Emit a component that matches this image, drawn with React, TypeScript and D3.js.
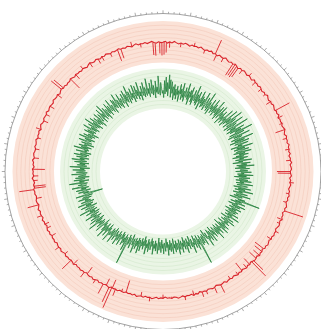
import React from "react";
import * as d3 from "d3";

// Outer track: one sample per degree (clockwise from 12 o'clock)
const redBase: number[] = [
  49, 51, 47, 50, 48, 52, 49, 47, 50, 48, 51, 49, 46, 50, 48, 49, 47, 51, 48, 46,
  49, 47, 50, 46, 48, 45, 49, 47, 46, 50, 47, 45, 48, 46, 49, 47, 44, 48, 46, 49,
  47, 45, 48, 46, 44, 49, 46, 47, 45, 48, 46, 44, 47, 45, 49, 46, 44, 47, 45, 48,
  46, 44, 47, 45, 48, 43, 46, 45, 47, 44, 46, 48, 45, 43, 47, 45, 46, 44, 48, 45,
  46, 44, 47, 43, 46, 45, 48, 44, 46, 47, 44, 45, 47, 43, 46, 44, 47, 45, 43, 46,
  45, 47, 44, 46, 43, 45, 47, 44, 46, 42, 45, 44, 47, 43, 45, 46, 44, 42, 45, 44,
  46, 43, 45, 42, 44, 46, 43, 45, 41, 44, 43, 46, 42, 44, 45, 43, 41, 44, 42, 45,
  43, 41, 44, 42, 45, 43, 41, 44, 42, 43, 45, 41, 43, 44, 42, 40, 43, 44, 42, 41,
  44, 42, 43, 40, 44, 42, 45, 41, 43, 42, 44, 41, 43, 45, 42, 41, 44, 42, 43, 40,
  43, 42, 44, 41, 43, 45, 42, 43, 41, 44, 42, 43, 45, 41, 44, 42, 43, 41, 44, 43,
  42, 45, 43, 44, 42, 46, 44, 43, 45, 44, 46, 43, 45, 47, 44, 46, 45, 43, 46, 45,
  47, 45, 46, 44, 48, 46, 45, 47, 46, 48, 45, 47, 49, 46, 48, 47, 45, 49, 47, 48,
  46, 49, 47, 50, 48, 46, 49, 48, 51, 47, 49, 50, 48, 52, 49, 47, 50, 51, 49, 48,
  51, 50, 52, 49, 51, 48, 50, 53, 49, 51, 50, 52, 48, 51, 50, 53, 49, 51, 52, 50,
  49, 52, 50, 51, 53, 49, 51, 50, 52, 48, 51, 53, 50, 49, 52, 51, 50, 53, 49, 51,
  52, 50, 49, 53, 51, 50, 52, 48, 51, 53, 50, 52, 49, 51, 50, 53, 51, 49, 52, 50,
  51, 49, 52, 50, 48, 51, 53, 50, 49, 52, 50, 48, 51, 49, 52, 50, 48, 51, 49, 50,
  52, 49, 50, 48, 51, 49, 47, 50, 52, 48, 50, 49, 51, 48, 50, 52, 49, 47, 50, 48,
];

// Outer track peaks: position (degrees) and value
const redPeakAngle: number[] = [
  355.5, 356.5, 358.5, 359.5, 0.5, 1.5, 3, 339.5, 341, 330, 332, 326,
  24, 24.6, 33, 34, 35, 36, 38, 46, 53, 61.5, 68, 71, 80, 90, 90.8,
  100, 104, 108, 114, 127.5, 129, 131, 133, 134.5, 135.5, 137, 139, 141.5, 144,
  153, 156, 162, 170, 176, 197, 199, 202, 203.5, 203.8, 205, 206.5, 208,
  216.5, 218, 224, 226, 240, 246, 255, 258, 262, 262.6, 263.5, 268, 271, 276, 280,
  293, 300, 306, 309, 310, 315, 318,
  8, 14, 19, 28, 42, 50, 57, 65, 75, 85, 95, 112, 118, 122, 148, 160, 166,
  180, 186, 190, 212, 230, 234, 244, 250, 266, 285, 289, 296, 322, 336, 346, 350,
];
const redPeakValue: number[] = [
  19, 17, 22, 17, 19, 24, 36, 22, 26, 38, 40, 41,
  84, 31, 14, 17, 15, 19, 36, 36, 40, 84, 40, 24, 36, 12, 14,
  38, 36, 92, 38, 17, 22, 26, 22, 75, 90, 24, 33, 19, 36,
  65, 58, 55, 52, 40, 12, 36, 60, 22, 96, 84, 26, 70,
  24, 60, 33, 75, 36, 38, 75, 36, 87, 22, 22, 38, 22, 38, 40,
  38, 40, 39, 84, 80, 22, 38,
  40, 57, 38, 36, 56, 37, 34, 55, 36, 35, 54, 34, 53, 33, 34, 52, 33,
  34, 52, 32, 55, 37, 58, 38, 60, 40, 42, 61, 41, 60, 40, 59, 41,
];

// Inner track: two samples per degree
const greenValues: number[] = [
  42, 30, 58, 36, 64, 40, 55, 33, 68, 45, 60, 31, 57, 38, 49, 27, 53, 35, 46, 29,
  51, 37, 44, 26, 55, 39, 48, 30, 58, 34, 45, 28, 52, 41, 36, 60, 33, 47, 25, 50,
  38, 56, 31, 44, 27, 53, 40, 35, 62, 32, 48, 29, 54, 37, 43, 24, 57, 36, 49, 30,
  46, 33, 59, 38, 28, 52, 41, 34, 63, 30, 47, 39, 26, 55, 37, 44, 31, 58, 35, 50,
  29, 45, 36, 61, 33, 48, 27, 54, 40, 32, 57, 38, 46, 25, 52, 35, 43, 30, 60, 37,
  44, 28, 65, 34, 50, 39, 70, 31, 56, 42, 36, 67, 29, 53, 45, 33, 72, 38, 48, 30,
  62, 35, 55, 43, 74, 32, 58, 40, 28, 66, 37, 51, 44, 31, 69, 36, 53, 27, 60, 41,
  34, 57, 39, 46, 26, 63, 35, 49, 30, 55, 42, 33, 58, 28, 47, 37, 52, 31, 44, 25,
  50, 36, 43, 29, 56, 34, 41, 24, 53, 38, 47, 30, 59, 33, 45, 27, 51, 39, 35, 48,
  28, 54, 37, 42, 31, 57, 33, 46, 26, 52, 40, 34, 49, 29, 55, 36, 43, 30, 58, 38,
  32, 50, 41, 27, 56, 35, 47, 30, 61, 37, 44, 28, 53, 39, 34, 59, 31, 46, 40, 25,
  52, 40, 97, 36, 48, 29, 55, 38, 43, 27, 57, 34, 49, 40, 31, 53, 36, 45, 26, 50,
  33, 47, 41, 29, 54, 35, 44, 31, 58, 37, 42, 26, 51, 39, 34, 56, 30, 45, 38, 49,
  27, 43, 36, 52, 32, 47, 24, 55, 38, 41, 30, 50, 35, 44, 28, 57, 33, 46, 37, 29,
  48, 34, 42, 25, 53, 36, 31, 49, 27, 44, 38, 56, 30, 41, 35, 23, 50, 37, 29, 45,
  32, 47, 39, 28, 92, 34, 43, 26, 51, 36, 30, 46, 24, 40, 35, 53, 28, 42, 33, 22,
  44, 31, 38, 25, 49, 33, 27, 42, 21, 37, 30, 46, 26, 35, 40, 23, 48, 32, 28, 39,
  24, 43, 30, 36, 20, 45, 33, 27, 41, 22, 38, 29, 47, 25, 34, 19, 40, 31, 26, 44,
  28, 35, 21, 42, 30, 25, 38, 18, 44, 32, 27, 40, 23, 36, 29, 46, 24, 33, 20, 39,
  31, 26, 43, 22, 37, 30, 48, 25, 34, 19, 41, 28, 36, 23, 45, 32, 27, 50, 24, 38,
  30, 44, 26, 35, 52, 28, 40, 33, 22, 47, 36, 29, 42, 25, 77, 38, 31, 55, 27, 43,
  34, 48, 29, 39, 26, 51, 37, 32, 45, 28, 54, 35, 41, 30, 49, 38, 27, 56, 33, 44,
  31, 46, 39, 58, 34, 42, 28, 53, 37, 45, 30, 60, 36, 48, 33, 40, 27, 55, 41, 35,
  50, 32, 44, 38, 62, 34, 47, 29, 56, 40, 36, 52, 31, 45, 39, 59, 33, 48, 42, 30,
  54, 37, 46, 32, 63, 40, 35, 51, 43, 29, 57, 38, 47, 34, 60, 41, 31, 53, 36, 45,
  39, 56, 33, 48, 42, 30, 58, 37, 2, 44, 35, 52, 40, 31, 55, 38, 46, 33, 61, 42,
  36, 50, 43, 34, 64, 39, 47, 31, 56, 41, 37, 53, 30, 48, 44, 35, 59, 40, 33, 51,
  42, 36, 57, 38, 45, 29, 62, 40, 34, 50, 37, 46, 31, 55, 43, 35, 60, 39, 47, 32,
  53, 41, 36, 58, 33, 48, 44, 30, 56, 38, 42, 35, 61, 37, 49, 32, 54, 40, 45, 29,
  51, 39, 34, 57, 43, 36, 48, 31, 59, 42, 37, 53, 33, 46, 40, 28, 55, 38, 50, 35,
  44, 60, 36, 47, 32, 54, 41, 38, 63, 35, 49, 30, 57, 43, 37, 52, 34, 46, 28, 56,
  40, 36, 51, 45, 31, 58, 39, 47, 33, 62, 42, 35, 53, 29, 48, 44, 37, 56, 32, 50,
  41, 38, 59, 34, 47, 43, 30, 55, 39, 52, 36, 45, 61, 33, 49, 40, 35, 57, 31, 48,
  44, 37, 54, 41, 29, 58, 38, 50, 35, 46, 63, 32, 52, 42, 36, 56, 39, 47, 31, 60,
  43, 35, 57, 40, 49, 33, 62, 38, 45, 30, 54, 41, 37, 59, 34, 50, 44, 36, 64, 39,
  47, 33, 56, 42, 38, 61, 35, 51, 44, 30, 58, 39, 48, 36, 66, 41, 34, 55, 45, 37,
];

const W = 321;
const H = 329;
const CX = 163;
const CY = 171.5;

const AXIS_R = 158;
const RED_IN = 109;
const RED_OUT = 150.5;
const GREEN_IN = 63;
const GREEN_OUT = 103;
const GRID_COUNT = 9;

const toRad = (deg: number) => (deg * Math.PI) / 180;

export default function App() {
  const rRed = d3.scaleLinear().domain([0, 100]).range([RED_IN, RED_OUT]);
  const rGreen = d3.scaleLinear().domain([12, 78]).range([GREEN_IN, GREEN_OUT]).clamp(true);

  const redStep = 360 / redBase.length;
  const greenStep = 360 / greenValues.length;

  const redLine = d3
    .lineRadial<number>()
    .angle((_, i) => toRad(i * redStep))
    .radius((v) => rRed(v))
    .curve(d3.curveLinearClosed);

  const greenLine = d3
    .lineRadial<number>()
    .angle((_, i) => toRad(i * greenStep))
    .radius((v) => rGreen(v))
    .curve(d3.curveLinearClosed);

  const ring = (inner: number, outer: number) =>
    d3.arc()({ innerRadius: inner, outerRadius: outer, startAngle: 0, endAngle: 2 * Math.PI }) || "";

  const gridRadii = (inner: number, outer: number) =>
    d3.range(1, GRID_COUNT + 1).map((k) => inner + ((outer - inner) * k) / (GRID_COUNT + 1));

  const peaks = redPeakAngle.map((a, i) => {
    const idx = Math.round((((a % 360) + 360) % 360) / redStep) % redBase.length;
    const from = rRed(redBase[idx]);
    const to = rRed(redPeakValue[i]);
    const t = toRad(a);
    return {
      x1: Math.sin(t) * from,
      y1: -Math.cos(t) * from,
      x2: Math.sin(t) * to,
      y2: -Math.cos(t) * to,
    };
  });

  const tickAngles = d3.range(0, 360, 2);

  return (
    <svg
      width={W}
      height={H}
      style={{ position: "absolute", left: 0, top: 0, display: "block", background: "#fff" }}
    >
      <g transform={`translate(${CX},${CY})`}>
        {/* axis circle with outward ticks */}
        <circle r={AXIS_R} fill="none" stroke="#8a8a8a" strokeWidth={0.8} />
        {tickAngles.map((a) => {
          const t = toRad(a);
          const len = a % 10 === 0 ? 3.2 : 1.8;
          return (
            <line
              key={a}
              x1={Math.sin(t) * AXIS_R}
              y1={-Math.cos(t) * AXIS_R}
              x2={Math.sin(t) * (AXIS_R + len)}
              y2={-Math.cos(t) * (AXIS_R + len)}
              stroke="#8a8a8a"
              strokeWidth={0.7}
            />
          );
        })}

        {/* outer track background */}
        <path d={ring(RED_IN, RED_OUT)} fill="#fbe2d7" />
        {gridRadii(RED_IN, RED_OUT).map((r) => (
          <circle key={`rg${r}`} r={r} fill="none" stroke="#f3c9ba" strokeWidth={0.6} />
        ))}

        {/* inner track background */}
        <path d={ring(GREEN_IN, GREEN_OUT)} fill="#eaf5e5" />
        {gridRadii(GREEN_IN, GREEN_OUT).map((r) => (
          <circle key={`gg${r}`} r={r} fill="none" stroke="#d2e8cb" strokeWidth={0.6} />
        ))}

        {/* inner series */}
        <path d={greenLine(greenValues) || ""} fill="none" stroke="#23803c" strokeWidth={0.8} />

        {/* outer series */}
        <path d={redLine(redBase) || ""} fill="none" stroke="#d9222a" strokeWidth={1.1} />
        {peaks.map((p, i) => (
          <line key={i} x1={p.x1} y1={p.y1} x2={p.x2} y2={p.y2} stroke="#d9222a" strokeWidth={0.9} />
        ))}
      </g>
    </svg>
  );
}
